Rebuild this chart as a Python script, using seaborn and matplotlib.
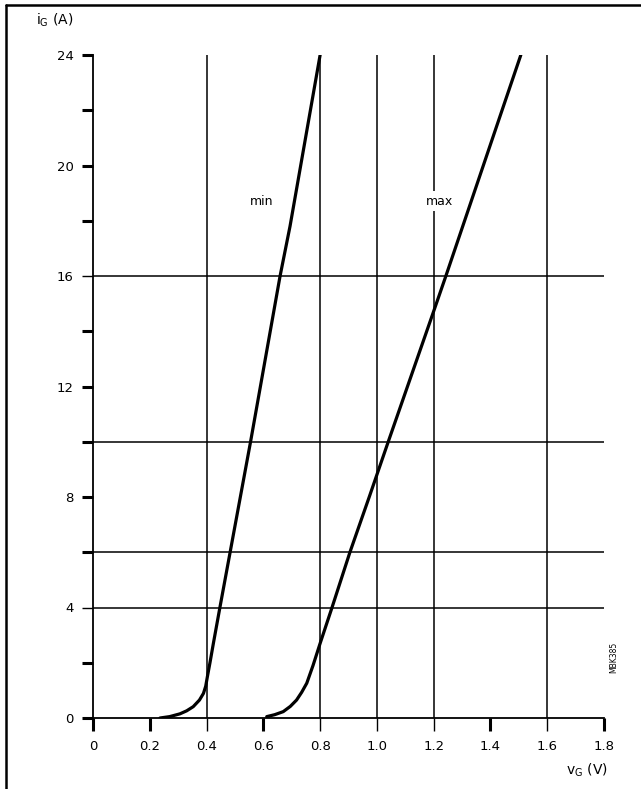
import matplotlib
matplotlib.use("Agg")
import matplotlib.pyplot as plt
from matplotlib.lines import Line2D
import numpy as np
import pandas as pd
import seaborn as sns

# Forward characteristic, min and max limit curves
v_min = [0.236, 0.270, 0.306, 0.330, 0.353, 0.375, 0.389, 0.397, 0.403, 0.412, 0.424, 0.447,
         0.483, 0.555, 0.659, 0.694, 0.800]
i_min = [0.0, 0.05, 0.15, 0.26, 0.41, 0.65, 0.89, 1.15, 1.5, 2.0, 2.7, 4.0,
         6.0, 10.0, 16.0, 17.8, 24.0]

v_max = [0.612, 0.640, 0.670, 0.695, 0.717, 0.735, 0.753, 0.775, 0.800, 0.841, 0.905,
         0.973, 1.040, 1.206, 1.243, 1.431, 1.507]
i_max = [0.05, 0.12, 0.23, 0.42, 0.65, 0.93, 1.26, 1.9, 2.7, 3.97, 6.0,
         8.0, 10.0, 14.9, 16.0, 21.7, 24.0]

# Axis ticks and grid positions
x_ticks = [0.0, 0.2, 0.4, 0.6, 0.8, 1.0, 1.2, 1.4, 1.6, 1.8]
x_tick_labels = ["0", "0.2", "0.4", "0.6", "0.8", "1.0", "1.2", "1.4", "1.6", "1.8"]
y_ticks = [0, 4, 8, 12, 16, 20, 24]
y_minor_ticks = [2, 6, 10, 14, 18, 22]
v_grid = [0.4, 0.8, 1.0, 1.2, 1.6]
i_grid = [4, 6, 10, 16]

sns.set_theme(style="white")
plt.rcParams["font.family"] = ["DejaVu Sans"]
plt.rcParams["text.color"] = "black"

W, H = 641, 789
fig = plt.figure(figsize=(W / 100, H / 100), dpi=100)
ax = fig.add_axes([93 / W, 71 / H, 511 / W, 663 / H])
ax.set_facecolor("white")

curves = pd.concat([
    pd.DataFrame({"v": v_min, "i": i_min, "curve": "min"}),
    pd.DataFrame({"v": v_max, "i": i_max, "curve": "max"}),
])
sns.lineplot(data=curves, x="v", y="i", hue="curve", units="curve",
             estimator=None, sort=False, palette=["black", "black"],
             linewidth=2.3, legend=False, ax=ax, zorder=3)
for line in ax.get_lines():
    line.set_solid_joinstyle("round")

ax.vlines(v_grid, 0, 24, colors="black", linewidth=1.1, zorder=1)
ax.hlines(i_grid, 0, 1.8, colors="black", linewidth=1.1, zorder=1)

ax.set_xlim(0, 1.8)
ax.set_ylim(0, 24)
ax.set_xlabel("")
ax.set_ylabel("")
for side in ("top", "right"):
    ax.spines[side].set_visible(False)
for side in ("left", "bottom"):
    ax.spines[side].set_color("black")
    ax.spines[side].set_linewidth(1.3)

ax.set_xticks(x_ticks)
ax.set_xticklabels(x_tick_labels)
ax.set_yticks(y_ticks)
ax.set_yticks(y_minor_ticks, minor=True)
ax.tick_params(axis="x", which="major", direction="out", length=9.5, width=1.0,
               color="black", labelsize=9.5, labelcolor="black", pad=6, bottom=True)
ax.tick_params(axis="y", which="both", direction="out", length=8, width=1.0,
               color="black", labelsize=9.5, labelcolor="black", pad=6, left=True)

# Ticks that are not continuations of grid lines are drawn heavier
for t, val in zip(ax.xaxis.get_major_ticks(), x_ticks):
    if not any(abs(val - g) < 1e-9 for g in v_grid):
        t.tick1line.set_markeredgewidth(2.2)
for t in ax.yaxis.get_minor_ticks():
    t.tick1line.set_markeredgewidth(2.2)
for t, val in zip(ax.yaxis.get_major_ticks(), y_ticks):
    if val not in i_grid:
        t.tick1line.set_markeredgewidth(2.2)

ax.text(0.594, 18.7, "min", fontsize=9, ha="center", va="center", zorder=4)
ax.text(1.22, 18.7, "max", fontsize=9, ha="center", va="center", zorder=4,
        bbox=dict(facecolor="white", edgecolor="none", pad=2.5))

fig.text(36 / W, 1 - 20 / H, "i$_\\mathregular{G}$ (A)", fontsize=10,
         ha="left", va="center")
fig.text(608 / W, 1 - 770 / H, "v$_\\mathregular{G}$ (V)", fontsize=10,
         ha="right", va="center")
fig.text(614 / W, 1 - 657 / H, "MBK385", fontsize=5.5, rotation=90,
         ha="center", va="center")

# Frame lines along the top and left edges of the figure
fig.add_artist(Line2D([6 / W, 1.0], [1 - 5 / H, 1 - 5 / H], color="black",
                      linewidth=1.8, transform=fig.transFigure))
fig.add_artist(Line2D([6 / W, 6 / W], [0.0, 1 - 5 / H], color="black",
                      linewidth=1.8, transform=fig.transFigure))

fig.savefig("out.png", dpi=100, facecolor="white")
